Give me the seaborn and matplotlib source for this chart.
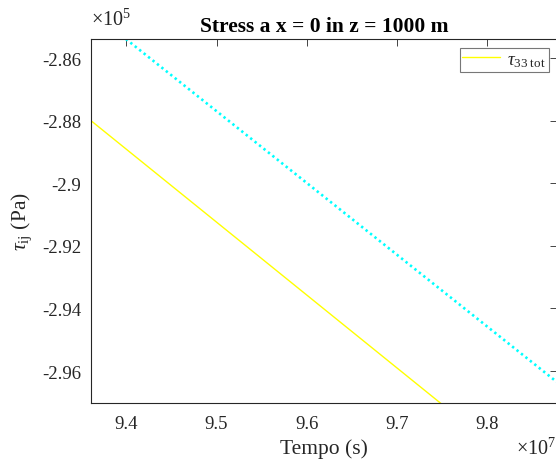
import matplotlib
matplotlib.use("Agg")
import matplotlib.pyplot as plt
import seaborn as sns
import pandas as pd
from matplotlib.ticker import FuncFormatter

# data (time in s, stress in Pa)
t_tot = [9.34e7, 9.78e7]
tau33_tot = [-2.8751e5, -2.9777e5]
t_ref = [9.38e7, 9.90e7]
tau_ref = [-2.8494e5, -2.9688e5]

xticks = [9.4e7, 9.5e7, 9.6e7, 9.7e7, 9.8e7]
yticks = [-2.96e5, -2.94e5, -2.92e5, -2.90e5, -2.88e5, -2.86e5]

sns.set_theme(style="white")
plt.rcParams['font.family'] = ['Liberation Serif', 'DejaVu Serif']
plt.rcParams['mathtext.fontset'] = 'custom'
plt.rcParams['mathtext.rm'] = 'Liberation Serif'
plt.rcParams['mathtext.it'] = 'Liberation Serif:italic'
plt.rcParams['mathtext.bf'] = 'Liberation Serif:bold'

dark = '#262626'
fig = plt.figure(figsize=(5.56, 4.60), dpi=100)
ax = fig.add_axes([91/556, 1-404/460, (557-91)/556, (404-40)/460])

df1 = pd.DataFrame({'t': t_tot, 'tau': tau33_tot})
df2 = pd.DataFrame({'t': t_ref, 'tau': tau_ref})
sns.lineplot(data=df1, x='t', y='tau', ax=ax, color='#ffff00', linewidth=1.0,
             label=r'$\tau_{\rm 33\ tot}$', sort=False)
sns.lineplot(data=df2, x='t', y='tau', ax=ax, color='#00ffff', linewidth=1.9,
             dashes=False, sort=False, legend=False)
ax.lines[-1].set_linestyle((0, (0.9, 1.25)))

ax.set_xlim(9.361e7, 9.877e7)
ax.set_ylim(-2.9702e5, -2.8539e5)
ax.set_xticks(xticks)
ax.set_yticks(yticks)
ax.xaxis.set_major_formatter(FuncFormatter(lambda v, p: f"{v/1e7:g}"))
ax.yaxis.set_major_formatter(FuncFormatter(lambda v, p: f"{v/1e5:g}"))
ax.tick_params(direction='in', length=5, width=0.6, colors=dark, labelsize=13.5,
               top=True, right=True)
ax.tick_params(axis='x', pad=8.5)
ax.tick_params(axis='y', pad=7)
for s in ax.spines.values():
    s.set_color(dark)
    s.set_linewidth(0.8)

ax.set_xlabel('Tempo (s)', fontsize=15.5, color=dark, labelpad=5)
ax.set_ylabel(r'$\tau_{\rm ij}$ (Pa)', fontsize=15.5, color=dark, labelpad=6)
ax.set_title('Stress a x = 0 in z = 1000 m', fontsize=15.5, fontweight='bold',
             color='black', pad=6)

fig.text(91/556, 1-20/460, r'$\times10^{5}$', fontsize=14.5, color=dark,
         ha='left', va='center')
fig.text(516/556, 1-449/460, r'$\times10^{7}$', fontsize=14.5, color=dark,
         ha='left', va='center')

leg = ax.legend(loc='upper right', bbox_to_anchor=(0.983, 0.975), fontsize=13.5,
                frameon=True, fancybox=False, handlelength=2.0, borderpad=0.15,
                handletextpad=0.4, borderaxespad=0.0)
leg.get_frame().set_edgecolor('#555555')
leg.get_frame().set_linewidth(0.8)

fig.savefig('out.png', dpi=100)
